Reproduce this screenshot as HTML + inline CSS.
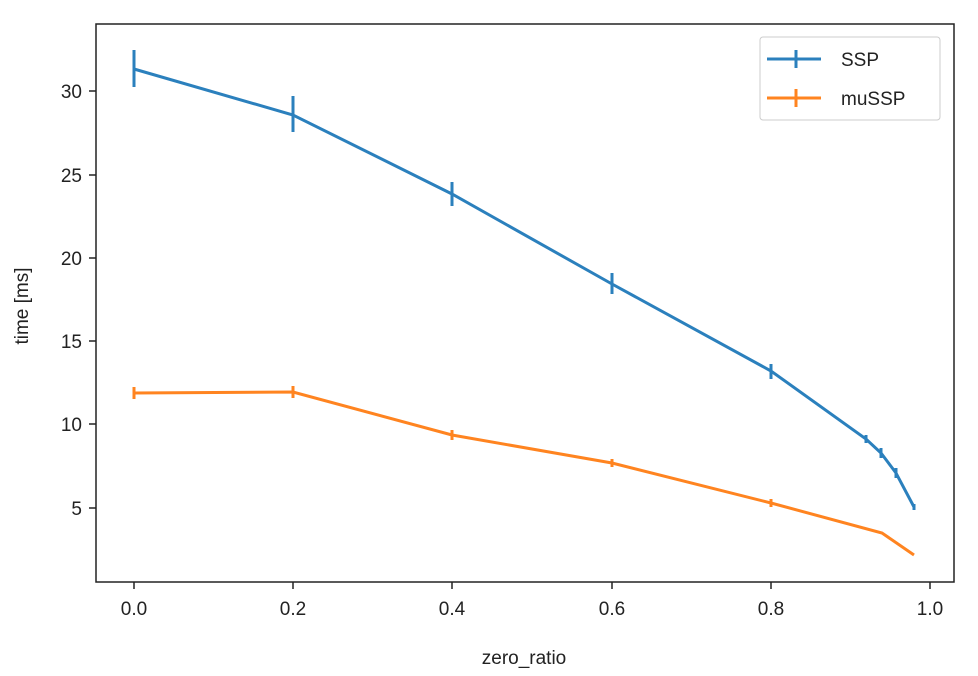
<!DOCTYPE html>
<html><head><style>body{margin:0;background:#fff}svg{display:block}text{font-family:"Liberation Sans","DejaVu Sans",sans-serif;fill:#222}</style></head>
<body>
<svg width="978" height="676" viewBox="0 0 978 676">
<rect x="96" y="24" width="858" height="558" fill="none" stroke="#222" stroke-width="1.5"/>
<g stroke="#222" stroke-width="1.5">
<line x1="134" y1="582" x2="134" y2="589"/><line x1="293" y1="582" x2="293" y2="589"/><line x1="452" y1="582" x2="452" y2="589"/><line x1="612" y1="582" x2="612" y2="589"/><line x1="771" y1="582" x2="771" y2="589"/><line x1="930" y1="582" x2="930" y2="589"/>
<line x1="89" y1="91" x2="96" y2="91"/><line x1="89" y1="175" x2="96" y2="175"/><line x1="89" y1="258" x2="96" y2="258"/><line x1="89" y1="341" x2="96" y2="341"/><line x1="89" y1="424" x2="96" y2="424"/><line x1="89" y1="508" x2="96" y2="508"/>
</g>
<g font-size="19" text-anchor="middle">
<text x="134" y="615">0.0</text><text x="293" y="615">0.2</text><text x="452" y="615">0.4</text><text x="612" y="615">0.6</text><text x="771" y="615">0.8</text><text x="930" y="615">1.0</text>
<text x="524" y="664">zero_ratio</text>
</g>
<g font-size="19" text-anchor="end">
<text x="82" y="98">30</text><text x="82" y="182">25</text><text x="82" y="265">20</text><text x="82" y="348">15</text><text x="82" y="431">10</text><text x="82" y="515">5</text>
</g>
<text transform="translate(28,306) rotate(-90)" font-size="19" text-anchor="middle">time [ms]</text>
<g stroke="#2b80bd" stroke-width="3" fill="none">
<polyline points="134,69 293,115 452,194 612,284 771,371 866,439 881,453 896,473 914,507"/>
<line x1="134" y1="50" x2="134" y2="87"/><line x1="293" y1="96" x2="293" y2="132"/><line x1="452" y1="182" x2="452" y2="206"/><line x1="612" y1="273" x2="612" y2="294"/><line x1="771" y1="364" x2="771" y2="379"/><line x1="866" y1="435" x2="866" y2="443"/><line x1="881" y1="448" x2="881" y2="458"/><line x1="896" y1="468" x2="896" y2="478"/><line x1="914" y1="504" x2="914" y2="510"/>
</g>
<g stroke="#ff8420" stroke-width="3" fill="none">
<polyline points="134,393 293,392 452,435 612,463 771,503 882,533 914,555"/>
<line x1="134" y1="387" x2="134" y2="399"/><line x1="293" y1="386" x2="293" y2="398"/><line x1="452" y1="430" x2="452" y2="440"/><line x1="612" y1="459" x2="612" y2="467"/><line x1="771" y1="499" x2="771" y2="507"/>
</g>
<rect x="760" y="37" width="180" height="83" rx="3" fill="#fff" stroke="#ccc" stroke-width="1"/>
<g stroke-width="3">
<line x1="767" y1="59" x2="821" y2="59" stroke="#2b80bd"/><line x1="796" y1="50" x2="796" y2="68" stroke="#2b80bd"/>
<line x1="767" y1="98" x2="821" y2="98" stroke="#ff8420"/><line x1="796" y1="89" x2="796" y2="107" stroke="#ff8420"/>
</g>
<g font-size="19"><text x="841" y="66">SSP</text><text x="841" y="105">muSSP</text></g>
</svg>
</body></html>
